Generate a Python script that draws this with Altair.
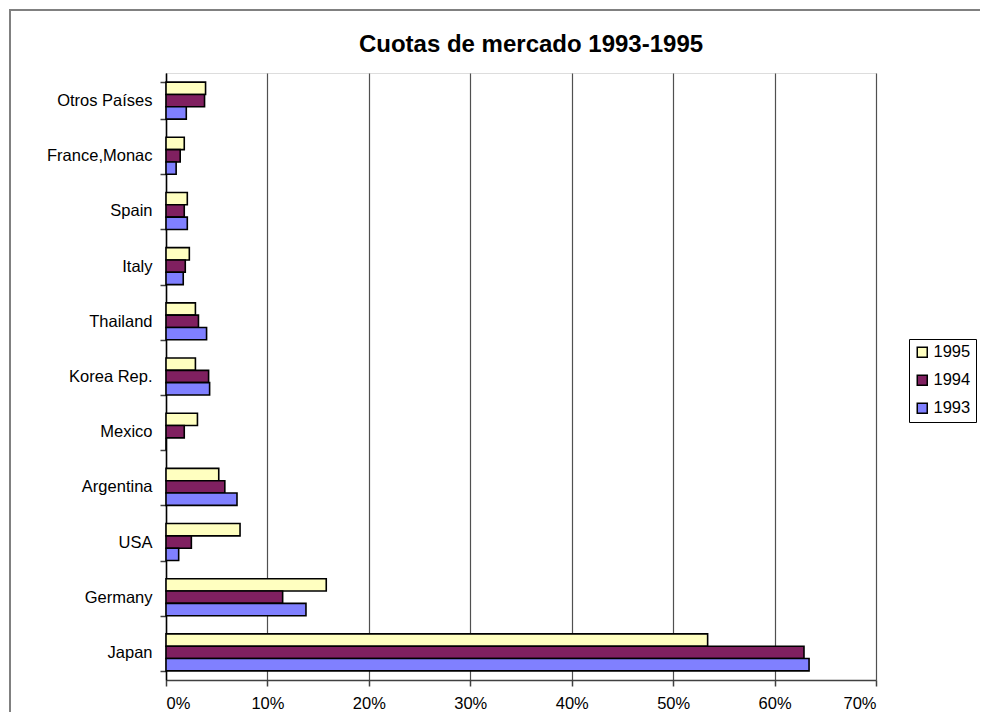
import altair as alt
import pandas as pd

countries = ["Otros Países", "France,Monac", "Spain", "Italy", "Thailand",
             "Korea Rep.", "Mexico", "Argentina", "USA", "Germany", "Japan"]
years = ["1995", "1994", "1993"]
v1995 = [0.039, 0.018, 0.021, 0.023, 0.029, 0.029, 0.031, 0.052, 0.073, 0.158, 0.534]
v1994 = [0.038, 0.014, 0.018, 0.019, 0.032, 0.042, 0.018, 0.058, 0.025, 0.115, 0.629]
v1993 = [0.020, 0.010, 0.021, 0.017, 0.040, 0.043, 0.000, 0.070, 0.0125, 0.138, 0.634]
colors = ["#FFFFC0", "#802060", "#8080FF"]
x_ticks = [0, 0.1, 0.2, 0.3, 0.4, 0.5, 0.6, 0.7]
title_text = "Cuotas de mercado 1993-1995"

rows = []
for y, vals in zip(years, [v1995, v1994, v1993]):
    for c, v in zip(countries, vals):
        rows.append({"country": c, "year": y, "share": v})
df = pd.DataFrame(rows)

FONT = "Liberation Sans"
LFS = 16.5

bars = alt.Chart(df).mark_bar(stroke="black", strokeWidth=1.6).encode(
    y=alt.Y("country:N", sort=countries, title=None,
            scale=alt.Scale(paddingInner=0.33, paddingOuter=0.165),
            axis=alt.Axis(labelFontSize=LFS, labelFont=FONT, labelColor="black",
                          domainColor="black", domainWidth=1.5, tickColor="#404040",
                          tickSize=6, tickWidth=1.5, tickBand="extent", labelPadding=8,
                          grid=False)),
    yOffset=alt.YOffset("year:N", sort=years, scale=alt.Scale(paddingInner=0, paddingOuter=0)),
    x=alt.X("share:Q", title=None,
            scale=alt.Scale(domain=[0, 0.7], nice=False),
            axis=alt.Axis(format="%", values=x_ticks, labelFontSize=LFS, labelFont=FONT,
                          labelColor="black", domainColor="#404040", domainWidth=1.5,
                          tickColor="#404040", tickSize=6, tickWidth=1.5, labelPadding=9,
                          grid=True, gridColor="#505050", gridWidth=1.2)),
    color=alt.Color("year:N", sort=years,
                    scale=alt.Scale(domain=years, range=colors),
                    legend=alt.Legend(title=None, orient="none", legendX=743, legendY=266,
                                      symbolType="square", symbolSize=100,
                                      symbolStrokeColor="black", symbolStrokeWidth=1.5,
                                      labelFontSize=LFS, labelFont=FONT, labelColor="black",
                                      rowPadding=11, padding=5, strokeColor="black",
                                      fillColor="white", labelOffset=3)),
)

border = alt.Chart(alt.Data(values=[{}])).mark_rect(
    fill=None, stroke="#808080", strokeWidth=2
).encode(
    x=alt.value(-156), x2=alt.value(900), y=alt.value(-63), y2=alt.value(700)
)

title = alt.Chart(alt.Data(values=[{"t": title_text}])).mark_text(
    font=FONT, fontSize=24, fontWeight="bold", color="black",
    align="center", baseline="alphabetic"
).encode(
    text="t:N", x=alt.value(365), y=alt.value(-21)
)

chart = alt.layer(border, bars, title).properties(
    width=710, height=607,
    autosize=alt.AutoSizeParams(type="none"),
    padding={"left": 158, "top": 65, "right": 104, "bottom": 32},
).configure_view(stroke=None).configure(background="white")

chart.save("out.html", embed_options={"renderer": "svg", "actions": False})
